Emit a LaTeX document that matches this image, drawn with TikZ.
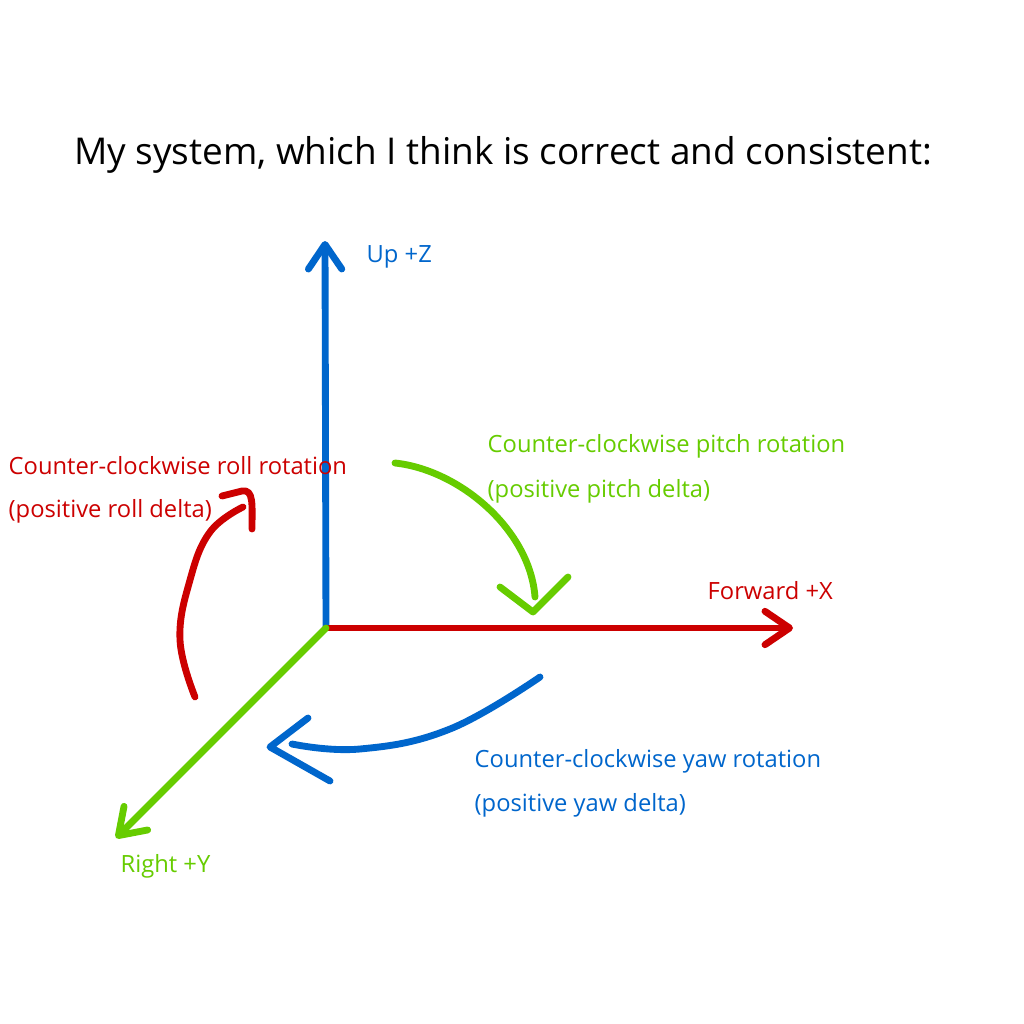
\documentclass[tikz,border=0pt]{standalone}
\usepackage{fontspec}
\setmainfont{Open Sans}
\usepackage{xcolor}
\usepackage{tikz}
\usetikzlibrary{arrows.meta,positioning}

\definecolor{axred}{HTML}{CC0000}
\definecolor{axgreen}{HTML}{66CC00}
\definecolor{axblue}{HTML}{0066CC}

\begin{document}
\begin{tikzpicture}[x=0.01cm, y=-0.01cm,
        stroke/.style={line width=1.95pt, line cap=round, line join=round},
        axis/.style={stroke, -{Straight Barb[length=7pt, width=9.5pt, round]}},
        lbl/.style={anchor=west, inner sep=0pt, font=\fontsize{6.75}{8}\selectfont},
        title/.style={inner sep=0pt, font=\fontsize{10.5}{12}\selectfont},
      ]
      \useasboundingbox [fill=white] (0,0) rectangle (1024,1024);
      \node [title] (head) at (503,155) {My system, which I think is correct and consistent:};
      % axes
      \coordinate (o) at (326,628);
      \coordinate (zend) at (325,241);
      \coordinate (xend) at (793,628);
      \coordinate (yend) at (116,838);
      \draw [axis, axblue] (o) -- (zend);
      \draw [axis, axred] (o) -- (xend);
      \draw [axis, axgreen] (o) -- (yend);
      \node [lbl, text=axblue] (uplbl) at (366,257) {Up +Z};
      \node [lbl, text=axred] (fwdlbl) at (707,591) {Forward +X};
      \node [lbl, text=axgreen] (rightlbl) at (120,866) {Right +Y};
      % roll
      \draw [stroke, axred] plot [smooth, tension=0.7] coordinates {(195,697) (180,640) (190,580) (210,532) (243,507)};
      \draw [stroke, axred] (222,496) -- (242,491) .. controls (254,489) and (252,505) .. (252,529);
      \node [lbl, text=axred] (rolla) at (8,466) {Counter-clockwise roll rotation};
      \node [lbl, text=axred] (rollb) at (8,511) {(positive roll delta)};
      % pitch
      \draw [stroke, axgreen] (395,463) .. controls (460,470) and (530,530) .. (535,597);
      \draw [stroke, axgreen] (500,587) -- (533,612) -- (568,577);
      \node [lbl, text=axgreen] (pitcha) at (487,446) {Counter-clockwise pitch rotation};
      \node [lbl, text=axgreen] (pitchb) at (487,491) {(positive pitch delta)};
      % yaw
      \draw [stroke, axblue] plot [smooth, tension=0.7] coordinates {(540,677) (450,729) (360,749) (292,744)};
      \draw [stroke, axblue] (308,718) -- (270,747) -- (330,781);
      \node [lbl, text=axblue] (yawa) at (474,761) {Counter-clockwise yaw rotation};
      \node [lbl, text=axblue] (yawb) at (474,805) {(positive yaw delta)};
    \end{tikzpicture}
\end{document}
